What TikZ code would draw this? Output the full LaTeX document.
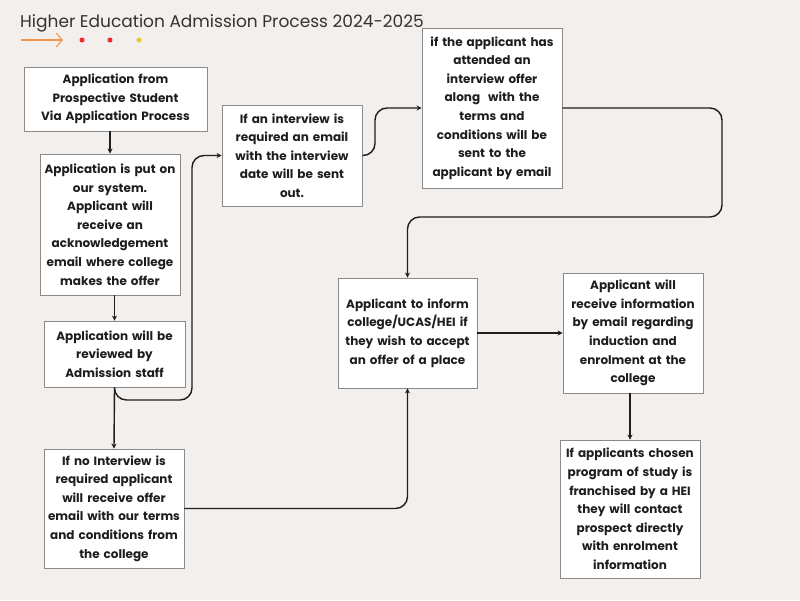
\documentclass[tikz,border=0pt]{standalone}
\usepackage{fontspec}
\setmainfont{Poppins}
\usetikzlibrary{arrows.meta,calc}
\definecolor{bg}{HTML}{F3EFEC}
\definecolor{boxline}{HTML}{8A8A8A}
\definecolor{ink}{HTML}{1E1E1E}
\definecolor{titleink}{HTML}{333333}
\definecolor{orangeline}{HTML}{F4934A}
\definecolor{reddot}{HTML}{EE2A2A}
\definecolor{yellowdot}{HTML}{F4C430}
\tikzset{
  stepbox/.style={draw=boxline, line width=0.9pt, fill=white, inner sep=0pt, align=center,
    font=\fontsize{12}{18.6}\selectfont\bfseries, text=ink},
  flow/.style={draw=ink, line width=1.4pt, rounded corners=12pt, -{Stealth[length=5pt,width=5pt]}},
}
\begin{document}
\begin{tikzpicture}[x=1pt,y=-1pt]
\fill[bg] (0,0) rectangle (800,600);
\useasboundingbox (0,0) rectangle (800,600);
\node[anchor=base west, font=\fontsize{17}{20}\selectfont, text=titleink, inner sep=0pt] (title) at (20,27) {Higher Education Admission Process 2024-2025};
\coordinate (ar1) at (21,40);
\coordinate (ar2) at (63,40);
\draw[orangeline, line width=1.1pt, -{Straight Barb[length=6pt,width=14pt]}] (ar1) -- (ar2);
\fill[reddot] (82,40) circle (2.5);
\fill[reddot] (110,40) circle (2.5);
\fill[yellowdot] (139,40) circle (2.5);

\node[stepbox, minimum width=183pt, minimum height=64pt, text width=179pt] (A) at (115.5,99) {Application from\\Prospective Student\\Via Application Process};
\node[stepbox, minimum width=140pt, minimum height=141pt, text width=138pt] (B) at (110,224.5) {Application is put on\\our system.\\Applicant will\\receive an\\acknowledgement\\email where college\\makes the offer};
\node[stepbox, minimum width=141pt, minimum height=66pt, text width=138pt] (C) at (114.5,354) {Application will be\\reviewed by\\Admission staff};
\node[stepbox, minimum width=140pt, minimum height=119pt, text width=138pt] (D) at (114,508.5) {If no Interview is\\required applicant\\will receive offer\\email with our terms\\and conditions from\\the college};
\node[stepbox, minimum width=140pt, minimum height=101pt, text width=138pt] (E) at (292,155.5) {If an interview is\\required an email\\with the interview\\date will be sent\\out.};
\node[stepbox, minimum width=140pt, minimum height=160pt, text width=138pt] (F) at (492,108) {if the applicant has\\attended an\\interview offer\\along\ \ with the\\terms and\\conditions will be\\sent to the\\applicant by email};
\node[stepbox, minimum width=139pt, minimum height=110pt, text width=137pt] (G) at (407.5,333) {Applicant to inform\\college/UCAS/HEI if\\they wish to accept\\an offer of a place};
\node[stepbox, minimum width=140pt, minimum height=120pt, text width=138pt] (H) at (633,333) {Applicant will\\receive information\\by email regarding\\induction and\\enrolment at the\\college};
\node[stepbox, minimum width=140pt, minimum height=138pt, text width=138pt] (I) at (630,509) {If applicants chosen\\program of study is\\franchised by a HEI\\they will contact\\prospect directly\\with enrolment\\information};

\coordinate (ce) at (192,400);
\coordinate (ef) at (375,0);
\coordinate (fg) at (722,217);

\draw[flow] (B.north |- A.south) -- (B.north);
\draw[flow] (C.north |- B.south) -- (C.north);
\draw[flow] (C.south) -- (D.north);
\draw[flow] (C.south) |- (ce) |- (E.west);
\draw[flow] (E.east) -- (E.east -| ef) |- (F.west);
\draw[flow] (F.east) -| (fg) -| (G.north);
\draw[flow] (D.east) -| (G.south);
\draw[flow] (G.east) -- (H.west);
\draw[flow] (I.north |- H.south) -- (I.north);
\end{tikzpicture}
\end{document}
